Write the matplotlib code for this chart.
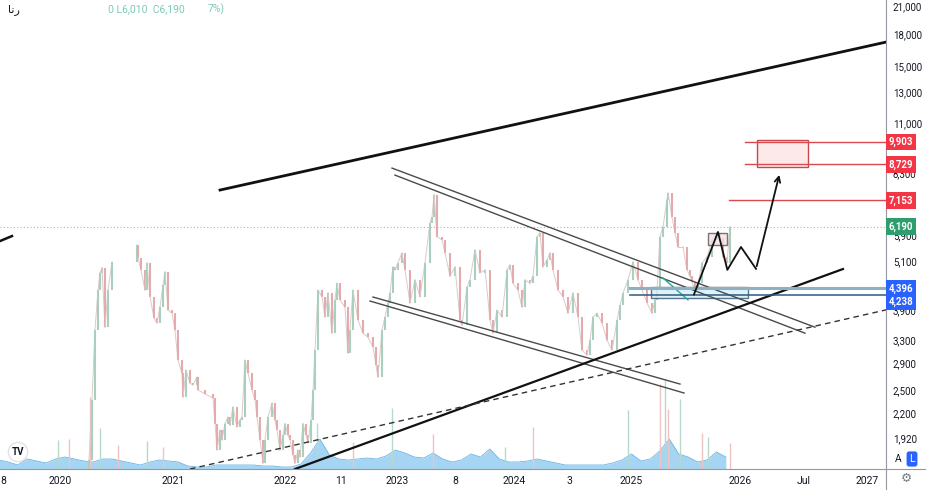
import matplotlib
matplotlib.use("Agg")
import matplotlib.pyplot as plt
import numpy as np
from matplotlib.patches import Rectangle
from matplotlib.ticker import FixedLocator, NullLocator

# price closes (fractional year, price)
px_year = [2020.229, 2020.256, 2020.282, 2020.308, 2020.335, 2020.353, 2020.370, 2020.397, 2020.423, 2020.459,
           2020.679, 2020.688, 2020.714, 2020.750, 2020.767, 2020.794, 2020.829, 2020.856, 2020.882, 2020.909,
           2020.926, 2020.953, 2020.988, 2021.014, 2021.041, 2021.076, 2021.085, 2021.112, 2021.147, 2021.173,
           2021.209, 2021.218, 2021.280, 2021.350, 2021.368, 2021.385, 2021.412, 2021.429, 2021.456, 2021.482,
           2021.500, 2021.526, 2021.562, 2021.588, 2021.606, 2021.632, 2021.659, 2021.694, 2021.721, 2021.738,
           2021.765, 2021.791, 2021.809, 2021.835, 2021.871, 2021.897, 2021.915, 2021.941, 2021.968, 2021.986,
           2022.012, 2022.030, 2022.056, 2022.074, 2022.100, 2022.118, 2022.144, 2022.171, 2022.188, 2022.215,
           2022.233, 2022.250, 2022.277, 2022.312, 2022.338, 2022.365, 2022.400, 2022.427, 2022.444, 2022.471,
           2022.515, 2022.541, 2022.559, 2022.585, 2022.630, 2022.674, 2022.718, 2022.762, 2022.789, 2022.806,
           2022.841, 2022.868, 2022.894, 2022.912, 2022.938, 2022.956, 2022.982, 2023.018, 2023.044, 2023.089,
           2023.133, 2023.177, 2023.221, 2023.265, 2023.283, 2023.301, 2023.327, 2023.371, 2023.398, 2023.442,
           2023.486, 2023.530, 2023.548, 2023.592, 2023.618, 2023.662, 2023.707, 2023.751, 2023.795, 2023.821,
           2023.857, 2023.901, 2023.945, 2023.971, 2023.998, 2024.042, 2024.077, 2024.104, 2024.148, 2024.174,
           2024.210, 2024.236, 2024.263, 2024.298, 2024.324, 2024.351, 2024.395, 2024.439, 2024.483, 2024.527,
           2024.572, 2024.607, 2024.651, 2024.677, 2024.704, 2024.739, 2024.783, 2024.827, 2024.872, 2024.916,
           2024.942, 2024.969, 2025.013, 2025.057, 2025.101, 2025.137, 2025.181, 2025.225, 2025.251, 2025.269,
           2025.295, 2025.322, 2025.357, 2025.366, 2025.401, 2025.428, 2025.454, 2025.498, 2025.533, 2025.560,
           2025.578, 2025.604, 2025.631, 2025.666, 2025.710, 2025.754, 2025.798, 2025.825, 2025.851, 2025.886,
           2025.913]
px_close = [1550, 1700, 2368, 3487, 4355, 4790, 4925, 3545, 4355, 5090,
            5590, 5200, 4870, 4355, 5060, 4200, 3730, 3630, 3965, 4480,
            4815, 3896, 3830, 3487, 2954, 2750, 2408, 2795, 2600, 2575,
            2690, 2504, 2450, 2395, 2080, 1796, 2007, 1899, 2080, 2155,
            2060, 2280, 2040, 2120, 2155, 2954, 2750, 2504, 2368, 2155,
            1899, 1670, 1899, 2155, 2330, 2120, 2007, 1796, 1950, 2080,
            1950, 1899, 1747, 1670, 1796, 1730, 2080, 1950, 1870, 2120,
            2504, 3122, 4355, 4200, 3750, 4285, 3430, 4125, 4520, 4125,
            3960, 3070, 3487, 4355, 3686, 3430, 3355, 3175, 2875, 2690,
            3487, 3750, 4055, 4285, 4950, 4870, 5060, 5350, 4870, 4055,
            4608, 4200, 5060, 6310, 6525, 7380, 5850, 5748, 5350, 4700,
            4950, 3686, 3585, 4430, 4608, 5440, 4790, 4870, 3686, 3430,
            3896, 3750, 4870, 5005, 4520, 4355, 3960, 4608, 4520, 4700,
            5850, 5975, 4950, 5146, 5350, 4870, 4355, 4200, 3830, 4285,
            3750, 3122, 3036, 3300, 3750, 3830, 3630, 3300, 3122, 3686,
            4000, 4285, 4608, 5090, 4608, 4355, 4055, 3830, 4125, 4355,
            5850, 6180, 7170, 7450, 6525, 5975, 5530, 5530, 4870, 4700,
            4560, 4355, 4520, 5060, 5230, 5748, 5975, 5810, 5230, 5060,
            6190]

# smoothed volume (monthly from mid 2019), arbitrary units
vol_start = 2019.46
vol_area = [9, 7, 4, 10, 8, 6, 10, 12, 10, 8, 7, 10, 10, 8, 6, 4, 7, 9, 8, 7,
            3, 2, 2, 4, 4, 4, 4, 4, 3, 3, 2, 2, 5, 16, 30, 14, 10, 9, 10, 11,
            10, 13, 19, 16, 12, 11, 16, 10, 7, 9, 15, 12, 20, 10, 7, 7, 8, 10, 8, 6,
            4, 4, 4, 4, 4, 6, 9, 15, 8, 10, 18, 30, 15, 12, 7, 9, 17, 12]
spike_year = [2019.982, 2020.079, 2020.264, 2020.353, 2020.511, 2020.767, 2020.909, 2022.268,
              2022.586, 2022.930, 2023.292, 2023.927, 2024.174, 2025.013, 2025.295, 2025.339,
              2025.366, 2025.472, 2025.666, 2025.719, 2025.913]
spike_vol = [29, 30, 72, 41, 24, 28, 22, 46, 27, 61, 35, 22, 42, 59, 85, 90, 60, 70, 36, 32, 26]
spike_dir = ['u', 'd', 'd', 'u', 'd', 'u', 'd', 'u', 'd', 'u', 'd', 'u', 'd', 'u', 'd', 'u', 'd', 'u', 'd', 'u', 'd']

# drawings: trendlines as ((year, price), (year, price))
big_line = [(2021.412, 7577), (2027.29, 17190)]
left_tail = [(2019.470, 5713), (2019.576, 5873)]
chan_upper = [[(2022.930, 8556), (2026.663, 3546)], [(2022.956, 8230), (2026.575, 3430)]]
chan_lower = [[(2022.762, 4190), (2025.472, 2588)], [(2022.736, 4098), (2025.507, 2463)]]
support = [(2022.074, 1617), (2026.910, 4893)]
dashed = [(2021.147, 1617), (2027.29, 3902)]
teal = [(2025.322, 4656), (2025.542, 4125)]
path_year = [2025.595, 2025.807, 2025.890, 2026.010, 2026.143, 2026.354]
path_price = [4250, 6008, 4870, 5528, 4897, 8367]

last_price = 6190
red_levels = [9903, 8729, 7153]
red_start = [2026.045, 2026.045, 2025.904]
blue_levels = [4396, 4238]
blue_start = 2025.03
red_box = (2026.152, 2026.601, 8600, 9990)
blue_box = (2025.216, 2026.072, 4170, 4420)
small_box = (2025.719, 2025.890, 5590, 5975)

y_ticks = [1920, 2200, 2500, 2900, 3300, 3900, 4500, 5100, 5900, 8300, 9900, 11000, 13000, 15000, 18000, 21000]
x_tick_pos = [2019.496, 2020.0, 2021.0, 2021.99, 2022.48, 2022.98, 2023.49, 2024.01, 2024.50, 2025.04, 2026.0, 2026.56, 2027.12]
x_tick_lab = ['8', '2020', '2021', '2022', '11', '2023', '8', '2024', '3', '2025', '2026', 'Jul', '2027']

plt.rcParams['font.family'] = ['Roboto', 'DejaVu Sans']

fig = plt.figure(figsize=(9.26, 4.9), dpi=100)
ax = fig.add_axes([0, 21/490, 886/926, 469/490])
ax2 = ax.twinx()
ax.set_zorder(ax2.get_zorder() + 1)
ax.patch.set_visible(False)

# volume
vx = vol_start + np.arange(len(vol_area)) / 12
ax2.fill_between(vx, 0, vol_area, color='#8fcbef', alpha=0.8, lw=0)
ax2.plot(vx, vol_area, color='#6bb4e3', lw=0.6)
for sx, sv, sd in zip(spike_year, spike_vol, spike_dir):
    ax2.vlines(sx, 0, sv, color='#b5d9cc' if sd == 'u' else '#eec3c3', lw=1)
ax2.set_ylim(0, 469)
ax2.set_yticks([])
for s in ax2.spines.values():
    s.set_visible(False)

# price candles (bodies from previous close), thin link only between adjacent bars
for i in range(1, len(px_close)):
    up = px_close[i] >= px_close[i-1]
    if px_year[i] - px_year[i-1] < 0.1:
        ax.plot(px_year[i-1:i+1], px_close[i-1:i+1], color='#dccaca', lw=0.7, zorder=2)
    ax.vlines(px_year[i], px_close[i-1], px_close[i], color='#a9cfbf' if up else '#e3abab', lw=1.5, zorder=2)

ax.set_yscale('log')
ax.set_ylim(1617, 21700)
ax.set_xlim(2019.47, 2027.29)

def seg(pts, **kw):
    ax.plot([p[0] for p in pts], [p[1] for p in pts], **kw)

seg(big_line, color='#111111', lw=2, zorder=4)
seg(left_tail, color='#111111', lw=1.8, zorder=4)
for ln in chan_upper + chan_lower:
    seg(ln, color='#4a4a4a', lw=1, zorder=4)
seg(support, color='#111111', lw=1.6, zorder=4)
seg(dashed, color='#333333', lw=1, ls=(0, (4, 3)), zorder=4)
seg(teal, color='#26a69a', lw=1, zorder=4)

ax.axhline(last_price, color='#9ab8c8', lw=0.8, ls=(0, (1, 2)), zorder=3)
for lv, st in zip(red_levels, red_start):
    ax.plot([st, 2027.29], [lv, lv], color='#d84a50', lw=1, zorder=4)
ax.plot([blue_start, 2027.29], [blue_levels[0]] * 2, color='#8fb0c0', lw=2.2, zorder=4)
ax.plot([blue_start, 2027.29], [blue_levels[1]] * 2, color='#2b5a80', lw=1.1, zorder=4)

x0, x1, y0, y1 = red_box
ax.add_patch(Rectangle((x0, y0), x1 - x0, y1 - y0, fc='#fde9e9', ec='#c9484e', lw=1, zorder=3))
x0, x1, y0, y1 = blue_box
ax.add_patch(Rectangle((x0, y0), x1 - x0, y1 - y0, fc='#d8eef8', ec='#35546e', lw=1, alpha=0.8, zorder=3))
x0, x1, y0, y1 = small_box
ax.add_patch(Rectangle((x0, y0), x1 - x0, y1 - y0, fc='#f6e2e2', ec='#555555', lw=1, alpha=0.8, zorder=3))

ax.plot(path_year[:-1], path_price[:-1], color='#111111', lw=1.3, zorder=5)
ax.annotate('', xy=(path_year[-1], path_price[-1]), xytext=(path_year[-2], path_price[-2]),
            arrowprops=dict(arrowstyle='->', color='#111111', lw=1.3, mutation_scale=10), zorder=5)

# axes styling
ax.yaxis.tick_right()
ax.yaxis.set_major_locator(FixedLocator(y_ticks))
ax.yaxis.set_minor_locator(NullLocator())
ax.set_yticklabels([f'{t:,}' for t in y_ticks])
ax.set_xticks(x_tick_pos)
ax.set_xticklabels(x_tick_lab)
ax.tick_params(axis='y', length=0, pad=5, labelsize=7, labelcolor='#131722')
ax.tick_params(axis='x', length=0, pad=5, labelsize=7.5, labelcolor='#131722')
for k in ['top', 'left']:
    ax.spines[k].set_visible(False)
for k in ['right', 'bottom']:
    ax.spines[k].set_color('#9598a1')
    ax.spines[k].set_linewidth(0.8)

# price labels on the scale
tr = ax.get_yaxis_transform()
labels = [(9903, '#f23645', 0), (8729, '#f23645', 0), (7153, '#f23645', 0),
          (6190, '#2e9e6e', 0), (4396, '#2962ff', 0), (4238, '#2962ff', -5)]
for val, col, off in labels:
    ax.annotate(f'{val:,}', xy=(1.0, val), xycoords=tr, xytext=(2, off), textcoords='offset points',
                ha='left', va='center', fontsize=7, color='white', fontweight='bold',
                bbox=dict(boxstyle='square,pad=0.3', fc=col, ec='none'), annotation_clip=False, zorder=10)

# chrome
fig.add_artist(plt.Line2D([886/926, 886/926], [0, 21/490], color='#9598a1', lw=0.8))
fig.add_artist(plt.Line2D([886/926, 1], [21/490, 21/490], color='#9598a1', lw=0.8))
fig.text(898/926, 1 - 459/490, 'A', fontsize=7.5, ha='center', va='center', color='#131722')
fig.text(912/926, 1 - 459/490, 'L', fontsize=7.5, ha='center', va='center', color='white',
         bbox=dict(boxstyle='round,pad=0.25', fc='#2962ff', ec='none'))
fig.text(906/926, 1 - 478/490, '\u2699', fontsize=9, ha='center', va='center', color='#787b86',
         family='DejaVu Sans')
fig.text(8/926, 1 - 10/490, '\ufe8e\ufee7\ufead', fontsize=8, ha='left', va='center', color='#131722',
         family='DejaVu Sans')
fig.text(108/926, 1 - 9/490, '0 L6,010  C6,190', fontsize=7.5, ha='left', va='center', color='#7fc8b8')
fig.text(208/926, 1 - 9/490, '7%)', fontsize=7.5, ha='left', va='center', color='#7fc8b8')
fig.text(18/926, 1 - 452/490, 'TV', fontsize=7, fontweight='bold', ha='center', va='center', color='#131722',
         bbox=dict(boxstyle='circle,pad=0.35', fc='white', ec='#e0e3eb'))

fig.savefig('out.png', dpi=100)
